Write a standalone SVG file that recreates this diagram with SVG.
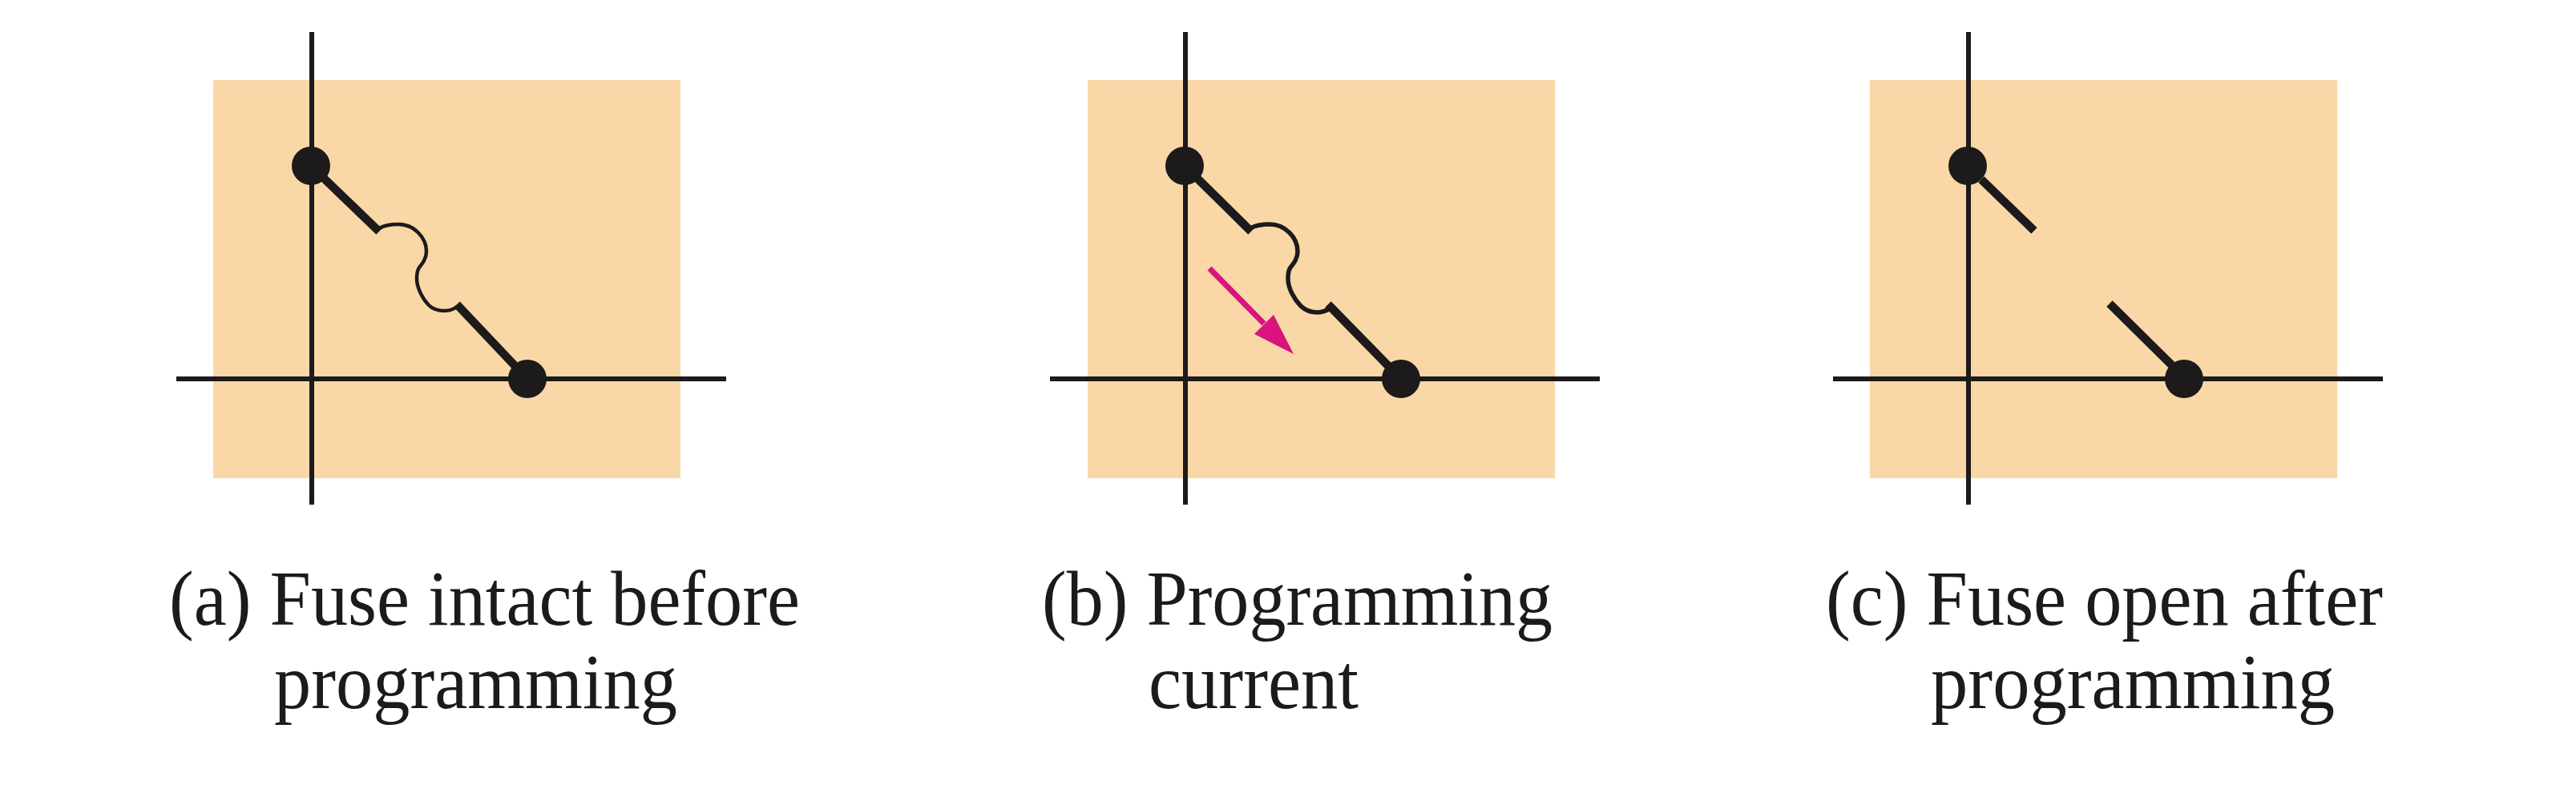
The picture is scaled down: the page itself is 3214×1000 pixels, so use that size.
<svg xmlns="http://www.w3.org/2000/svg" width="3214" height="1000" viewBox="0 0 3214 1000">
<style>
.bg{fill:#f9d7a6}
.ax{stroke:#1c1a1b;stroke-width:6;fill:none}
.th{stroke:#1c1a1b;stroke-width:10.5;fill:none}
.fu{stroke:#1c1a1b;stroke-width:4.5;fill:none}
.n{fill:#1c1a1b}
text{font-family:"Liberation Serif","Times New Roman",serif;font-size:97px;fill:#1c1a1b;text-anchor:start}
</style>
<rect width="3214" height="1000" fill="#fff"/>
<g id="panel-a">
<rect class="bg" x="266" y="100" width="583" height="497"/>
<path class="ax" d="M389 40V630M220 473H906"/>
<path class="th" d="M390 209L473 289M570 380L656 471"/>
<path class="fu" d="M473 285C480 281 489 280 497 280C516 280 532 296 532 314C532 323 527 329 523 334C520 338 520 343 520 348C520 360 528 374 535 381C540 386 548 388 555 388C561 388 566 386 570 383"/>
<circle class="n" cx="388" cy="207" r="24"/>
<circle class="n" cx="658" cy="473" r="24"/>
<text x="211" y="780" textLength="787" lengthAdjust="spacingAndGlyphs">(a) Fuse intact before</text>
<text x="342" y="884" textLength="503" lengthAdjust="spacingAndGlyphs">programming</text>
</g>
<g id="panel-b">
<rect class="bg" x="1357" y="100" width="583" height="497"/>
<path class="ax" d="M1479 40V630M1310 473H1996"/>
<path class="th" d="M1480 209L1561 289M1657 380L1746 471"/>
<path class="fu" style="stroke-width:5.5" d="M1560 285C1567 281 1576 280 1584 280C1603 280 1619 296 1619 314C1619 323 1614 329 1610 334C1607 338 1607 343 1607 348C1607 360 1615 374 1623 382C1629 388 1638 390 1644 390C1650 390 1654 388 1658 386"/>
<path d="M1509 335L1577 404" stroke="#d9147f" stroke-width="7" fill="none"/>
<path d="M1614 442L1589 393L1565 417Z" fill="#d9147f"/>
<circle class="n" cx="1478" cy="207" r="24"/>
<circle class="n" cx="1748" cy="473" r="24"/>
<text x="1300" y="780" textLength="637" lengthAdjust="spacingAndGlyphs">(b) Programming</text>
<text x="1433" y="884" textLength="262" lengthAdjust="spacingAndGlyphs">current</text>
</g>
<g id="panel-c">
<rect class="bg" x="2333" y="100" width="583" height="497"/>
<path class="ax" d="M2456 40V630M2287 473H2973"/>
<path class="th" d="M2472 224L2538 288M2632 379L2725 471"/>
<circle class="n" cx="2455" cy="207" r="24"/>
<circle class="n" cx="2725" cy="473" r="24"/>
<text x="2278" y="780" textLength="695" lengthAdjust="spacingAndGlyphs">(c) Fuse open after</text>
<text x="2409" y="884" textLength="504" lengthAdjust="spacingAndGlyphs">programming</text>
</g>
</svg>
